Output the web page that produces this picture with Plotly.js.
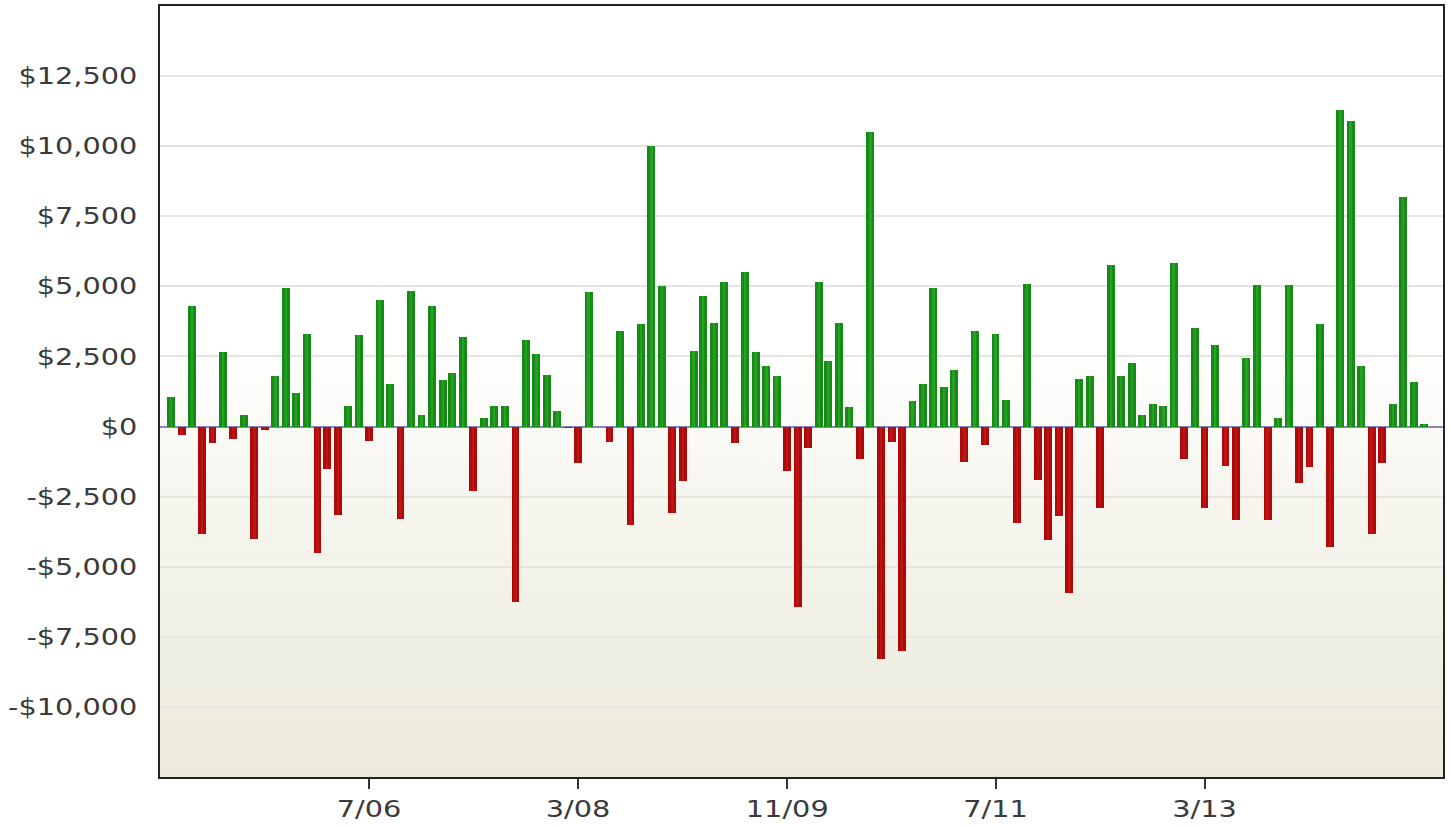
<!DOCTYPE html>
<html>
<head>
<meta charset="utf-8">
<script src="https://cdn.plot.ly/plotly-3.0.1.min.js"></script>
<style>
html,body{margin:0;padding:0;background:#ffffff;}
#chart{width:1451px;height:827px;}
</style>
</head>
<body>
<div id="chart"></div>
<script>
// Monthly results, Dec 2004 .. Dec 2014
const startMonth = "2004-12";
const monthlyValues = [
  1050, -300, 4300, -3850, -600, 2650, -430, 400, -4000, -130, 1800, 4950,
  1200, 3300, -4500, -1500, -3150, 750, 3250, -500, 4500, 1500, -3300, 4850,
  400, 4300, 1650, 1900, 3200, -2300, 300, 750, 750, -6250, 3100, 2600,
  1850, 550, -50, -1300, 4800, 0, -550, 3400, -3500, 3650, 10000, 5000,
  -3100, -1950, 2700, 4650, 3700, 5150, -600, 5500, 2650, 2150, 1800, -1600,
  -6450, -750, 5150, 2350, 3700, 700, -1150, 10500, -8300, -550, -8000, 900,
  1500, 4950, 1400, 2000, -1250, 3400, -650, 3300, 950, -3450, 5100, -1900,
  -4050, -3200, -5950, 1700, 1800, -2900, 5750, 1800, 2250, 400, 800, 750,
  5850, -1150, 3500, -2900, 2900, -1400, -3350, 2450, 5050, -3350, 300, 5050,
  -2000, -1450, 3650, -4300, 11300, 10900, 2150, -3850, -1300, 800, 8200, 1600,
  80
];
const xTickVals = ["2006-07-01", "2008-03-01", "2009-11-01", "2011-07-01", "2013-03-01"];
const yTickVals = [-10000, -7500, -5000, -2500, 0, 2500, 5000, 7500, 10000, 12500];
const yTickText = ["-$10,000", "-$7,500", "-$5,000", "-$2,500", "$0", "$2,500", "$5,000", "$7,500", "$10,000", "$12,500"];

// month dates for each bar
const months = [];
(function(){
  let y = parseInt(startMonth.slice(0,4),10), m = parseInt(startMonth.slice(5,7),10);
  for (let i = 0; i < monthlyValues.length; i++) {
    months.push(y + "-" + String(m).padStart(2,"0") + "-01");
    m++; if (m > 12) { m = 1; y++; }
  }
})();

const DAY = 86400000;
const mainColors = monthlyValues.map(v => v >= 0 ? "#168c16" : "#ad0a0a");
const stripeColors = monthlyValues.map(v => v >= 0 ? "#35b335" : "#cf1e1e");

const traceMain = {
  type: "bar", x: months, y: monthlyValues,
  width: 23 * DAY,
  marker: {color: mainColors, line: {width: 0}},
  hoverinfo: "skip", showlegend: false
};
const traceStripe = {
  type: "bar", x: months, y: monthlyValues,
  width: 7 * DAY,
  marker: {color: stripeColors, line: {width: 0}, opacity: 0.55},
  hoverinfo: "skip", showlegend: false
};

const bgSvg = '<svg xmlns="http://www.w3.org/2000/svg" width="10" height="100" preserveAspectRatio="none">' +
  '<defs><linearGradient id="g" x1="0" y1="0" x2="0" y2="1">' +
  '<stop offset="0" stop-color="#ffffff"/><stop offset="0.45" stop-color="#ffffff"/>' +
  '<stop offset="0.62" stop-color="#f7f6f0"/><stop offset="1" stop-color="#ebeadb"/>' +
  '</linearGradient></defs><rect width="10" height="100" fill="url(#g)"/></svg>';
const bgUri = "data:image/svg+xml;charset=utf-8," + encodeURIComponent(bgSvg);

const tickFont = {family: "DejaVu Sans, Verdana, sans-serif", size: 23, color: "#3a3a3a"};

const layout = {
  width: 1451, height: 827,
  margin: {l: 160, r: 8, t: 6, b: 50, pad: 0},
  paper_bgcolor: "#ffffff",
  plot_bgcolor: "rgba(0,0,0,0)",
  barmode: "overlay",
  bargap: 0,
  showlegend: false,
  images: [{
    source: bgUri, xref: "paper", yref: "paper",
    x: 0, y: 1, sizex: 1, sizey: 1, xanchor: "left", yanchor: "top",
    sizing: "stretch", layer: "below"
  }],
  xaxis: {
    type: "date",
    range: ["2004-10-30", "2015-01-25"],
    tickvals: xTickVals,
    tickformat: "%-m/%y",
    ticks: "outside", ticklen: 10, tickwidth: 2, tickcolor: "#333333",
    showgrid: false, zeroline: false,
    showline: true, linecolor: "#222222", linewidth: 2, mirror: true,
    tickfont: tickFont
  },
  yaxis: {
    range: [-12500, 15000],
    tickvals: yTickVals,
    ticktext: yTickText,
    ticks: "",
    ticklabelstandoff: 16,
    showgrid: true, gridcolor: "#e4e4e0", gridwidth: 2,
    zeroline: true, zerolinecolor: "#8686bc", zerolinewidth: 2,
    showline: true, linecolor: "#222222", linewidth: 2, mirror: true,
    tickfont: tickFont
  }
};

// the reference's labels are drawn horizontally wider than the font's natural width
function widenLabels(gd) {
  gd.querySelectorAll(".xtick text, .ytick text").forEach(t => {
    if (t.getAttribute("data-widened")) return;
    const len = t.getComputedTextLength();
    if (len > 0) {
      t.setAttribute("textLength", (len * 1.25).toFixed(1));
      t.setAttribute("lengthAdjust", "spacingAndGlyphs");
      t.setAttribute("data-widened", "1");
    }
  });
}

Plotly.newPlot("chart", [traceMain, traceStripe], layout, {displayModeBar: false, staticPlot: true})
  .then(gd => widenLabels(gd));
</script>
</body>
</html>
